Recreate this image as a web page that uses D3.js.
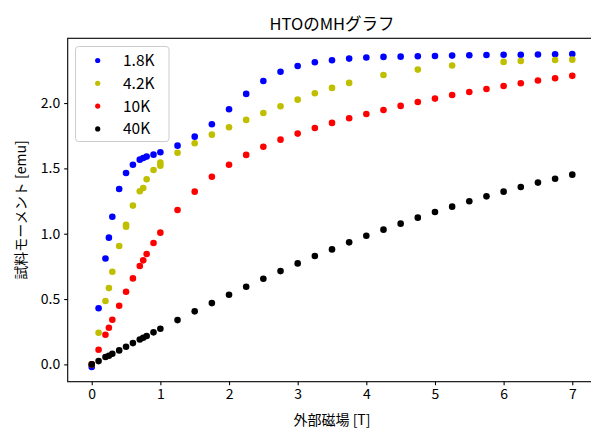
<!DOCTYPE html>
<html>
<head>
<meta charset="utf-8">
<script src="https://cdn.jsdelivr.net/npm/d3@7"></script>
<style>
  html, body { margin: 0; padding: 0; background: #fff; overflow: hidden; }
  svg { display: block; font-family: "Noto Sans CJK JP", "Noto Sans", sans-serif; }
</style>
</head>
<body>
<svg id="chart" width="591" height="428"></svg>
<script>
// Magnetization vs. applied field at four temperatures
const seriesNames = ["1.8K", "4.2K", "10K", "40K"];
const seriesColors = ["#0000ff", "#bfbf00", "#ff0000", "#000000"];

const fieldFull = [0, 0.1, 0.2, 0.25, 0.3, 0.4, 0.5, 0.6, 0.7, 0.75, 0.8, 0.9, 1.0,
  1.25, 1.5, 1.75, 2.0, 2.25, 2.5, 2.75, 3.0, 3.25, 3.5, 3.75, 4.0, 4.25, 4.5,
  4.75, 5.0, 5.25, 5.5, 5.75, 6.0, 6.25, 6.5, 6.75, 7.0];

const field1_8K = fieldFull;
const moment1_8K = [-0.02, 0.43, 0.81, 0.97, 1.13, 1.342, 1.465, 1.528, 1.567, 1.58, 1.59, 1.605, 1.623,
  1.674, 1.743, 1.838, 1.952, 2.07, 2.169, 2.24, 2.284, 2.312, 2.327, 2.34, 2.348, 2.353, 2.355,
  2.358, 2.36, 2.363, 2.366, 2.368, 2.37, 2.37, 2.371, 2.373, 2.375];

const field4_2K = [0, 0.1, 0.2, 0.25, 0.3, 0.4, 0.5, 0.5, 0.6, 0.7, 0.75, 0.8, 0.9, 1.0, 1.0,
  1.25, 1.5, 1.75, 2.0, 2.25, 2.5, 2.75, 3.0, 3.25, 3.5, 3.75, 4.25, 4.75, 5.25, 6.0, 6.25, 6.75, 7.0];
const moment4_2K = [0.0, 0.242, 0.485, 0.584, 0.709, 0.906, 1.054, 1.069, 1.215, 1.325, 1.35, 1.417, 1.488, 1.521, 1.544,
  1.62, 1.692, 1.758, 1.815, 1.871, 1.924, 1.975, 2.026, 2.075, 2.116, 2.154, 2.215, 2.256, 2.287, 2.315, 2.322, 2.33, 2.332];

const field10K = fieldFull;
const moment10K = [0.0, 0.112, 0.227, 0.28, 0.342, 0.449, 0.556, 0.658, 0.753, 0.796, 0.845, 0.929, 1.008,
  1.181, 1.322, 1.436, 1.528, 1.603, 1.666, 1.72, 1.766, 1.809, 1.848, 1.884, 1.916, 1.947, 1.978,
  2.008, 2.034, 2.062, 2.085, 2.108, 2.131, 2.151, 2.172, 2.19, 2.208];

const field40K = fieldFull;
const moment40K = [0.0, 0.025, 0.056, 0.066, 0.081, 0.107, 0.135, 0.163, 0.191, 0.204, 0.217, 0.245, 0.273,
  0.339, 0.406, 0.469, 0.533, 0.594, 0.655, 0.714, 0.773, 0.829, 0.88, 0.934, 0.985, 1.031, 1.077,
  1.123, 1.166, 1.207, 1.248, 1.286, 1.322, 1.358, 1.391, 1.421, 1.452];

const xTicks = [0, 1, 2, 3, 4, 5, 6, 7];
const yTicks = [0.0, 0.5, 1.0, 1.5, 2.0];

const titleText = "HTOのMHグラフ";
const xLabelText = "外部磁場 [T]";
const yLabelText = "試料モーメント [emu]";

const series = [
  { name: seriesNames[0], color: seriesColors[0], x: field1_8K, y: moment1_8K },
  { name: seriesNames[1], color: seriesColors[1], x: field4_2K, y: moment4_2K },
  { name: seriesNames[2], color: seriesColors[2], x: field10K, y: moment10K },
  { name: seriesNames[3], color: seriesColors[3], x: field40K, y: moment40K }
];

// Plot frame (right edge runs past the window)
const plot = { left: 67.7, right: 596.3, top: 38.3, bottom: 381.7 };

const xScale = d3.scaleLinear().domain([-0.35, 7.35]).range([plot.left, plot.right]);
const yScale = d3.scaleLinear().domain([-0.1325, 2.4955]).range([plot.bottom, plot.top]);

const svg = d3.select("#chart");

// Markers
const gPts = svg.append("g");
series.forEach(s => {
  gPts.append("g")
    .selectAll("circle")
    .data(s.x.map((v, i) => [v, s.y[i]]))
    .join("circle")
    .attr("cx", d => xScale(d[0]))
    .attr("cy", d => yScale(d[1]))
    .attr("r", 3.3)
    .attr("fill", s.color);
});

// Frame
svg.append("rect")
  .attr("x", plot.left).attr("y", plot.top)
  .attr("width", plot.right - plot.left).attr("height", plot.bottom - plot.top)
  .attr("fill", "none").attr("stroke", "#000").attr("stroke-width", 1.1);

// Axes
const xAxis = svg.append("g")
  .attr("transform", `translate(0,${plot.bottom})`)
  .call(d3.axisBottom(xScale).tickValues(xTicks).tickFormat(d3.format("d")).tickSize(3.5).tickPadding(4));
const yAxis = svg.append("g")
  .attr("transform", `translate(${plot.left},0)`)
  .call(d3.axisLeft(yScale).tickValues(yTicks).tickFormat(d3.format(".1f")).tickSize(3.5).tickPadding(4));

[xAxis, yAxis].forEach(ax => {
  ax.select(".domain").remove();
  ax.selectAll(".tick line").attr("stroke", "#000").attr("stroke-width", 1.1);
  ax.selectAll(".tick text")
    .attr("fill", "#000")
    .style("font-family", '"Noto Sans CJK JP", sans-serif')
    .style("font-size", "14px");
});
xAxis.selectAll(".tick text").attr("dy", "0.71em");

// Title and axis labels
svg.append("text")
  .attr("x", (plot.left + plot.right) / 2).attr("y", 30)
  .attr("text-anchor", "middle")
  .style("font-size", "16.5px")
  .attr("fill", "#000")
  .text(titleText);

svg.append("text")
  .attr("x", (plot.left + plot.right) / 2).attr("y", 424.5)
  .attr("text-anchor", "middle")
  .style("font-size", "14px")
  .attr("fill", "#000")
  .text(xLabelText);

svg.append("text")
  .attr("transform", `translate(26,${(plot.top + plot.bottom) / 2}) rotate(-90)`)
  .attr("text-anchor", "middle")
  .style("font-size", "14px")
  .attr("fill", "#000")
  .text(yLabelText);

// Legend
const legend = svg.append("g").attr("transform", "translate(75.5,46.5)");
legend.append("rect")
  .attr("width", 93.5).attr("height", 95)
  .attr("rx", 3).attr("ry", 3)
  .attr("fill", "#fff").attr("fill-opacity", 0.8)
  .attr("stroke", "#cccccc").attr("stroke-width", 1);
series.forEach((s, i) => {
  const cy = 14 + i * 22.8;
  legend.append("circle").attr("cx", 22.2).attr("cy", cy).attr("r", 2.6).attr("fill", s.color);
  legend.append("text")
    .attr("x", 47.5).attr("y", cy).attr("dy", "0.36em")
    .style("font-size", "15.5px")
    .attr("fill", "#000")
    .text(s.name);
});
</script>
</body>
</html>
